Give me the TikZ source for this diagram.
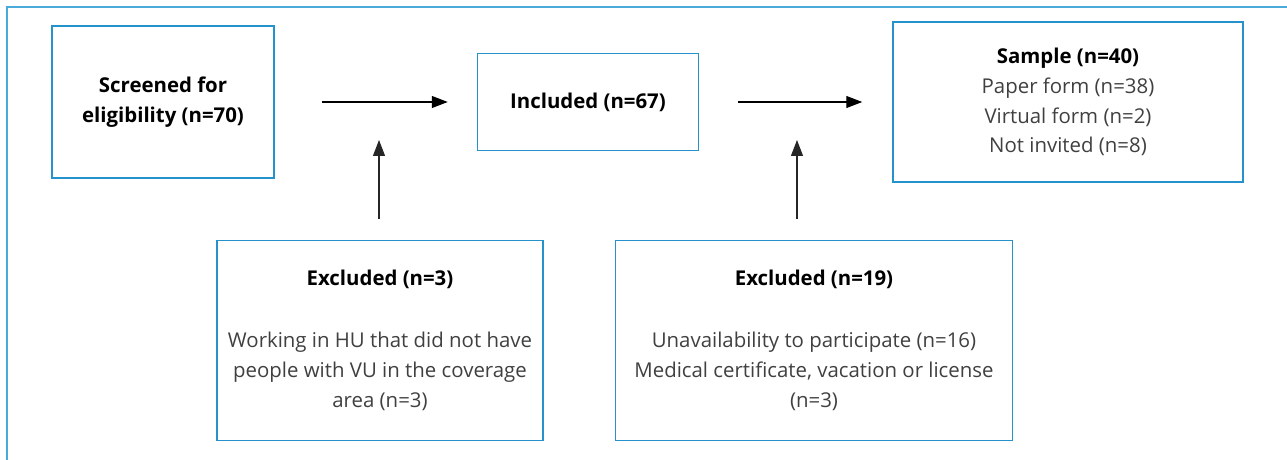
\documentclass[tikz,border=0pt]{standalone}
\usepackage{fontspec}
\setmainfont{Open Sans}
\usetikzlibrary{arrows.meta, positioning}
\definecolor{boxblue}{RGB}{38,146,204}
\definecolor{frameblue}{RGB}{74,170,218}
\definecolor{txtgray}{RGB}{64,64,64}

\begin{document}
\begin{tikzpicture}[
    x=0.5pt, y=-0.5pt,
    box/.style={draw=boxblue, line width=0.75pt, align=center, inner sep=0pt, text=txtgray,
        font=\fontsize{10.2}{14.9}\selectfont},
    ar/.style={-{Triangle[length=8pt, width=6pt]}, line width=0.6pt},
]
\clip (0,0) rectangle (1287,460);
% outer frame (only top and left edge visible)
\draw[frameblue, line width=0.8pt] (7,7) rectangle (1320,500);
% top row
\node[box, minimum width=111pt, minimum height=76pt] (scr) at (163,102)
    {\textcolor{black}{\bfseries Screened for}\\\textcolor{black}{\bfseries eligibility (n=70)}};
\node[box, right=101pt of scr, minimum width=110.5pt, minimum height=48.5pt] (inc)
    {\textcolor{black}{\bfseries Included (n=67)}};
\node[box, right=96.5pt of inc, minimum width=175pt, minimum height=80pt] (sam)
    {\textcolor{black}{\bfseries Sample (n=40)}\\Paper form (n=38)\\Virtual form (n=2)\\Not invited (n=8)};
% bottom row
\node[box, minimum width=163pt, minimum height=100pt] (exc1) at (380,340.5)
    {\textcolor{black}{\bfseries Excluded (n=3)}\\[16pt]Working in HU that did not have\\people with VU in the coverage\\area (n=3)};
\node[box, minimum width=198.5pt, minimum height=100pt] (exc2) at (814,340.5)
    {\textcolor{black}{\bfseries Excluded (n=19)}\\[16pt]Unavailability to participate (n=16)\\Medical certificate, vacation or license\\(n=3)};
% arrows
\coordinate (m1) at (379,102);
\coordinate (m2) at (797,102);
\draw[ar] (scr.east) -- (inc.west) [shorten <=23.5pt, shorten >=14.5pt];
\draw[ar] (inc.east) -- (sam.west) [shorten <=19.5pt, shorten >=15pt];
\draw[ar, black!85] (exc1.north -| m1) -- (m1) [shorten <=10.5pt, shorten >=19pt];
\draw[ar, black!85] (exc2.north -| m2) -- (m2) [shorten <=10.5pt, shorten >=19pt];
\end{tikzpicture}
\end{document}
